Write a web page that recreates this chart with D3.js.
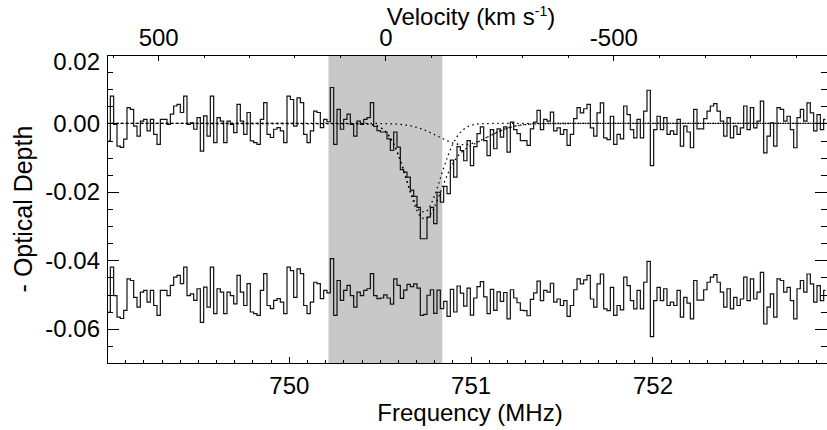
<!DOCTYPE html>
<html>
<head>
<meta charset="utf-8">
<script src="https://cdn.jsdelivr.net/npm/d3@7"></script>
<style>
  html, body { margin: 0; padding: 0; background: #fff; }
  svg { display: block; }
  text { font-family: "Liberation Sans", Arial, Helvetica, sans-serif; fill: #000; }
</style>
</head>
<body>
<div id="chart"></div>
<script>
//Spectrum channels (MHz)

const freqRange = [749.0, 752.96];
const nChan = 216;
const chanWidth = (freqRange[1] - freqRange[0]) / nChan;

//Optical depth per channel, in units of 1e-3

const tauSpec = [
  -5.1, 8.0, -0.3, -6.6, -7.0, -4.6, 4.6, 4.1, -0.8, -3.7, 0.7, 1.2,
  -2.2, 1.2, -3.2, -6.1, 1.2, 1.2, -0.3, 2.7, 5.1, 5.6, 3.2, 8.0,
  -0.3, 0.2, -1.7, 1.7, -8.1, 2.2, -3.7, 8.0, -5.6, 1.7, 0.7, -5.6,
  0.7, -0.3, -2.7, 5.6, 0.7, -3.2, 3.2, -5.1, -5.6, -6.1, 1.2, 6.1,
  -3.2, -4.1, -1.7, -1.2, -2.2, -5.6, 8.0, 7.0, -0.8, 7.5, 6.1, -3.2,
  -5.6, -2.2, 3.6, 3.2, -1.2, 1.2, 0.5, 10.5, -6.1, 4.1, -1.7, 1.2,
  2.7, -0.3, -3.7, 0.7, -0.3, 1.2, 1.7, 6.1, -0.9, -2.1, -2.5, -2.5,
  -4.5, -7.9, -2.5, -6.9, -13.5, -14.2, -15.7, -19.5, -21.3, -24.5, -33.7, -33.7,
  -27.4, -24.5, -29.3, -20.1, -23.0, -18.4, -20.5, -10.7, -15.7, -6.8, -7.9, -10.9,
  -5.0, -12.3, -6.8, -3.0, -1.0, -5.0, -9.4, -1.8, -7.4, -1.6, -4.0, -1.0,
  -8.4, 0.4, -1.8, -3.0, -5.0, -5.0, -6.4, -1.6, 0.4, 3.8, -1.8, 1.2,
  0.7, 3.3, -2.2, -1.3, -3.2, -1.8, -6.4, -3.2, 1.4, 4.6, 3.1, 4.3,
  5.6, -1.3, -3.7, 3.1, 6.0, -4.2, -4.7, 2.1, -6.1, -3.2, -4.5, 5.1,
  2.6, -1.8, -4.2, 1.2, -4.2, 3.6, 9.7, -12.3, -1.8, 2.1, -1.8, 1.7,
  -3.2, -2.2, -3.2, 1.2, -6.6, -0.8, -2.5, -7.1, 4.1, -1.6, -1.6, 1.4,
  3.6, 5.1, 5.8, 3.6, 0.7, -3.7, 1.7, -4.2, -0.8, -3.2, -1.3, 5.1,
  -1.8, 4.6, -1.3, 0.7, 6.5, -8.6, -3.7, 0.2, -6.6, 4.6, 4.1, 0.7,
  2.1, -1.8, -7.1, 1.7, 4.1, 0.7, 6.0, 3.1, -2.2, 2.6, -1.8, 1.2
];

//Residual after subtracting the fit (1e-3), drawn shifted down

const tauResid = [
  -5.1, 8.0, -0.3, -6.6, -7.0, -4.6, 4.6, 4.1, -0.8, -3.7, 0.7, 1.2,
  -2.2, 1.2, -3.2, -6.1, 1.2, 1.2, -0.3, 2.7, 5.1, 5.6, 3.2, 8.0,
  -0.3, 0.2, -1.7, 1.7, -8.1, 2.2, -3.7, 8.0, -5.6, 1.7, 0.7, -5.6,
  0.7, -0.3, -2.7, 5.6, 0.7, -3.2, 3.2, -5.1, -5.6, -6.1, 1.2, 6.1,
  -3.2, -4.1, -1.7, -1.2, -2.2, -5.6, 8.0, 7.0, -0.8, 7.5, 6.1, -3.2,
  -5.6, -2.2, 3.6, 3.2, -1.2, 1.2, 0.5, 10.5, -6.1, 4.1, -1.7, 1.2,
  2.7, -0.3, -3.7, 0.7, -0.3, 1.2, 1.7, 6.1, -0.3, -1.2, -1.0, -0.1,
  -1.0, -2.8, 4.6, 2.7, -1.1, 1.3, 3.0, 2.3, 3.1, 1.9, -6.1, -5.8,
  -0.2, 1.4, -5.5, 1.3, -4.1, -2.0, -6.4, 1.5, -5.1, 2.5, 0.4, -3.4,
  1.9, -6.0, -1.0, 2.3, 3.8, -0.7, -5.6, 1.5, -4.6, 0.8, -2.0, 0.6,
  -7.1, 1.4, -1.0, -2.4, -4.6, -4.7, -6.2, -1.4, 0.5, 3.9, -1.8, 1.2,
  0.7, 3.3, -2.2, -1.3, -3.2, -1.8, -6.4, -3.2, 1.4, 4.6, 3.1, 4.3,
  5.6, -1.3, -3.7, 3.1, 6.0, -4.2, -4.7, 2.1, -6.1, -3.2, -4.5, 5.1,
  2.6, -1.8, -4.2, 1.2, -4.2, 3.6, 9.7, -12.3, -1.8, 2.1, -1.8, 1.7,
  -3.2, -2.2, -3.2, 1.2, -6.6, -0.8, -2.5, -7.1, 4.1, -1.6, -1.6, 1.4,
  3.6, 5.1, 5.8, 3.6, 0.7, -3.7, 1.7, -4.2, -0.8, -3.2, -1.3, 5.1,
  -1.8, 4.6, -1.3, 0.7, 6.5, -8.6, -3.7, 0.2, -6.6, 4.6, 4.1, 0.7,
  2.1, -1.8, -7.1, 1.7, 4.1, 0.7, 6.0, 3.1, -2.2, 2.6, -1.8, 1.2
];
const residOffset = -0.05;

//Gaussian fit curves (1e-3), sampled at modelFreq

const modelFreq = [749.0].concat(d3.range(750.4, 751.4001, 0.025), [751.45, 752.96]);
const fitNarrow = [0,
  -0.04, -0.11, -0.25, -0.53, -1.07, -2.01, -3.52, -5.75, -8.78, -12.50,
  -16.60, -20.57, -23.80, -25.68, -25.86, -24.29, -21.30, -17.42, -13.30, -9.47,
  -6.29, -3.90, -2.26, -1.22, -0.61, -0.29, -0.13, -0.05, -0.02,
  0, 0, 0, 0, 0, 0, 0, 0, 0, 0, 0, 0, 0, 0];
const fitBroad = [0,
  0.00, 0.00, -0.01, -0.02, -0.03, -0.05, -0.09, -0.14, -0.23, -0.35,
  -0.53, -0.78, -1.11, -1.52, -2.01, -2.59, -3.23, -3.89, -4.55, -5.16,
  -5.66, -6.01, -6.18, -6.16, -5.95, -5.57, -5.04, -4.43, -3.76, -3.10,
  -2.47, -1.91, -1.43, -1.03, -0.73, -0.49, -0.32, -0.21, -0.13, -0.08,
  -0.04, -0.01, 0];
const fitTotal = [0,
  -0.04, -0.11, -0.26, -0.55, -1.10, -2.06, -3.61, -5.89, -9.01, -12.85,
  -17.13, -21.35, -24.91, -27.20, -27.87, -26.88, -24.53, -21.31, -17.85, -14.63,
  -11.95, -9.91, -8.44, -7.38, -6.56, -5.86, -5.17, -4.48, -3.78, -3.10,
  -2.47, -1.91, -1.43, -1.03, -0.73, -0.49, -0.32, -0.21, -0.13, -0.08,
  -0.04, -0.01, 0];

//Axis ticks

const tauRange = [-0.07, 0.02];
const tauMajor = [-0.06, -0.04, -0.02, 0.00, 0.02];
const freqMajor = [750, 751, 752];
const velMajor = [500, 0, -500];
const velMinor = [600, 400, 300, 200, 100, -100, -200, -300, -400, -600, -700, -800, -900];
const velShade = [125, -125];  //shaded velocity window (km/s)
const restFreq = 750.531;  //zero velocity (MHz)
const cLight = 299792.458;

const velToFreq = (v) => restFreq / (1 + v / cLight);

//Layout

const W = 827, H = 430;
const plot = { left: 107, right: 827, top: 55, bottom: 363 };
const fontSize = 24;

const x = d3.scaleLinear().domain(freqRange).range([plot.left, plot.right]);
const y = d3.scaleLinear().domain(tauRange).range([plot.bottom, plot.top]);

const svg = d3.select("#chart")
  .append("svg")
  .attr("width", W)
  .attr("height", H);

//Shaded velocity window

svg.append("rect")
  .attr("x", x(velToFreq(velShade[0])))
  .attr("y", plot.top)
  .attr("width", x(velToFreq(velShade[1])) - x(velToFreq(velShade[0])))
  .attr("height", plot.bottom - plot.top)
  .attr("fill", "#c8c8c8");

//Spectra as histograms

const chanFreq = d3.range(nChan).map((i) => freqRange[0] + (i + 0.5) * chanWidth);

const step = d3.line()
  .x((d) => x(d[0]))
  .y((d) => y(d[1]))
  .curve(d3.curveStep);

svg.append("path")
  .datum(chanFreq.map((f, i) => [f, tauSpec[i] / 1000]))
  .attr("fill", "none")
  .attr("stroke", "#111")
  .attr("stroke-width", 1.2)
  .attr("d", step);

svg.append("path")
  .datum(chanFreq.map((f, i) => [f, tauResid[i] / 1000 + residOffset]))
  .attr("fill", "none")
  .attr("stroke", "#111")
  .attr("stroke-width", 1.2)
  .attr("d", step);

//Fit components, dotted

const smooth = d3.line()
  .x((d) => x(d[0]))
  .y((d) => y(d[1]))
  .curve(d3.curveMonotoneX);

[[fitNarrow, 0], [fitBroad, 1.5], [fitTotal, 0]].forEach(([vals, offset]) => {
  svg.append("path")
    .datum(modelFreq.map((f, i) => [f, vals[i] / 1000]))
    .attr("fill", "none")
    .attr("stroke", "#000")
    .attr("stroke-width", 1.3)
    .attr("stroke-dasharray", "1.5,3.5")
    .attr("stroke-dashoffset", offset)
    .attr("d", smooth);
});

//Axes

const styleAxis = (g) => {
  g.attr("font-family", null).attr("font-size", null);
  g.selectAll("line, path").attr("stroke", "#000").attr("shape-rendering", "crispEdges");
  g.selectAll("text").style("font-size", fontSize + "px").attr("fill", "#000");
};

//bottom: frequency
svg.append("g")
  .attr("transform", `translate(0,${plot.bottom})`)
  .call(d3.axisBottom(x).tickValues(d3.range(749.1, 752.95, 0.1)).tickSize(-3).tickFormat(""))
  .call((g) => g.select(".domain").remove())
  .call(styleAxis);
svg.append("g")
  .attr("transform", `translate(0,${plot.bottom})`)
  .call(d3.axisBottom(x).tickValues(freqMajor).tickSize(-6).tickPadding(14).tickSizeOuter(0)
    .tickFormat(d3.format("d")))
  .call(styleAxis);

//top: velocity
svg.append("g")
  .attr("transform", `translate(0,${plot.top})`)
  .call(d3.axisTop(x).tickValues(velMinor.map(velToFreq)).tickSize(-3).tickFormat(""))
  .call((g) => g.select(".domain").remove())
  .call(styleAxis);
svg.append("g")
  .attr("transform", `translate(0,${plot.top})`)
  .call(d3.axisTop(x).tickValues(velMajor.map(velToFreq)).tickSize(-6).tickPadding(9).tickSizeOuter(0)
    .tickFormat((d, i) => String(velMajor[i])))
  .call(styleAxis);

//left and right: optical depth
const tauMinor = d3.range(-0.07, 0.0201, 0.005);
[["left", d3.axisLeft], ["right", d3.axisRight]].forEach(([side, axisFn]) => {
  const xPos = side === "left" ? plot.left : plot.right;
  svg.append("g")
    .attr("transform", `translate(${xPos},0)`)
    .call(axisFn(y).tickValues(tauMinor).tickSize(-6).tickFormat(""))
    .call((g) => g.select(".domain").remove())
    .call(styleAxis);
  svg.append("g")
    .attr("transform", `translate(${xPos},0)`)
    .call(axisFn(y).tickValues(tauMajor).tickSize(-12).tickPadding(7).tickSizeOuter(0)
      .tickFormat(side === "left" ? (d) => d.toFixed(2) : ""))
    .call(styleAxis)
    .call((g) => g.selectAll(".tick text")
      .attr("y", (d) => (d === tauRange[1] ? 7 : 0)));  //top label sits below the frame corner
});

//Titles

svg.append("text")
  .attr("x", (plot.left + plot.right) / 2 + 3)
  .attr("y", 421)
  .attr("text-anchor", "middle")
  .style("font-size", fontSize + "px")
  .text("Frequency (MHz)");

const vTitle = svg.append("text")
  .attr("x", (plot.left + plot.right) / 2 + 4)
  .attr("y", 25)
  .attr("text-anchor", "middle")
  .style("font-size", fontSize + "px");
vTitle.append("tspan").text("Velocity (km s");
vTitle.append("tspan").attr("dy", -9).style("font-size", "14px").text("-1");
vTitle.append("tspan").attr("dy", 9).text(")");

svg.append("text")
  .attr("transform", `translate(32,${(plot.top + plot.bottom) / 2}) rotate(-90)`)
  .attr("text-anchor", "middle")
  .style("font-size", "25px")
  .text("- Optical Depth");
</script>
</body>
</html>
